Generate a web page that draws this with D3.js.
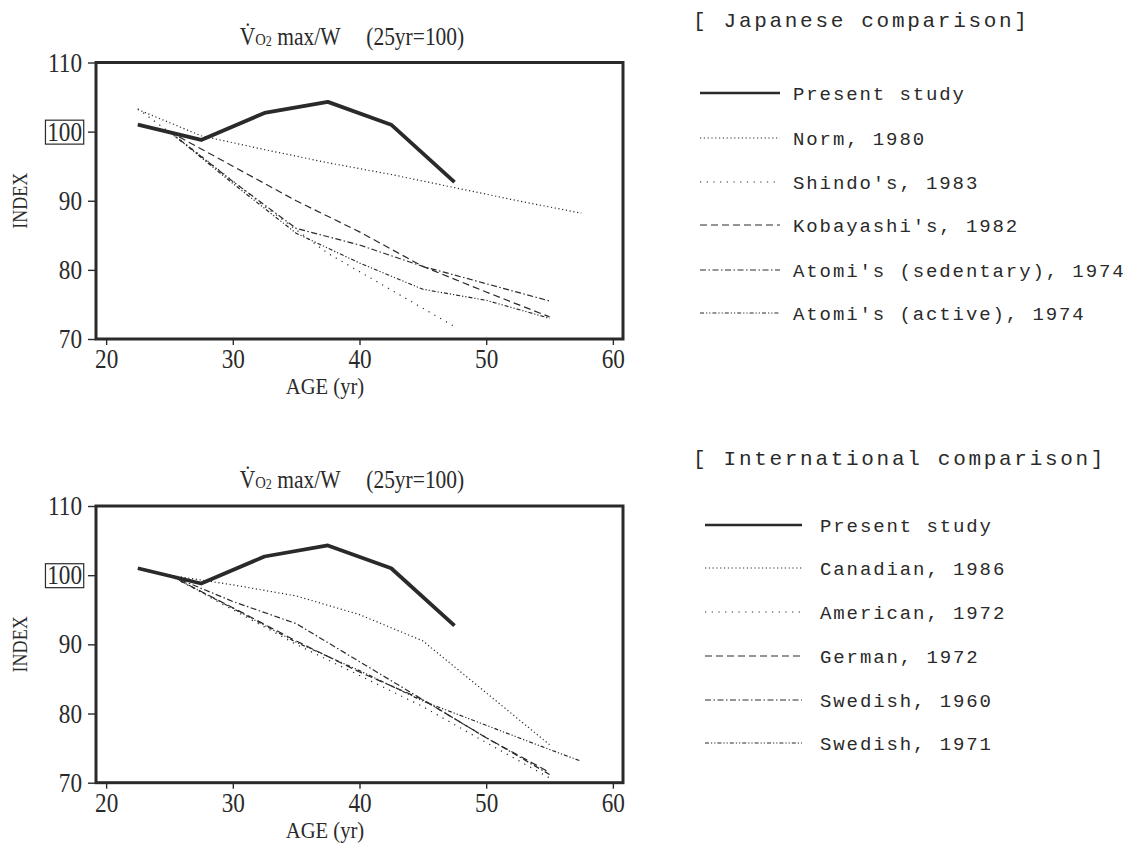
<!DOCTYPE html>
<html>
<head>
<meta charset="utf-8">
<script src="https://cdn.jsdelivr.net/npm/d3@7"></script>
<style>
  html, body { margin: 0; padding: 0; background: #fff; }
  svg { display: block; }
</style>
</head>
<body>
<svg id="chart" width="1135" height="846"></svg>
<script>
// ---------------- DATA ----------------
const xTicks = [20, 30, 40, 50, 60];
const yTicks = [70, 80, 90, 100, 110];
const ages5 = [25, 30, 35, 40, 45, 50, 55];

const presentAges = [22.5, 27.5, 32.5, 37.5, 42.5, 47.5];
const presentValues = [101, 98.8, 102.7, 104.3, 101, 92.7];

// Japanese comparison
const normAges = [22.5, 27.5, 32.5, 37.5, 42.5, 47.5, 52.5, 57.5];
const normValues = [103.2, 99.4, 97.4, 95.5, 93.8, 91.9, 90.0, 88.2];
const shindoAges = [22.5, 27.5, 32.5, 37.5, 42.5, 47.5];
const shindoValues = [103.3, 96.5, 89.2, 82.4, 77.1, 71.8];
const kobayashiValues = [100, 95, 90, 85.5, 80.5, 76.8, 73.2];
const atomiSedValues = [100, 92.8, 86, 83.6, 80.5, 78, 75.5];
const atomiActValues = [100, 92.5, 85.3, 81, 77.2, 75.6, 73];

// International comparison
const canadianValues = [100, 98.6, 97, 94.3, 90.5, 83, 75.5];
const americanValues = [100, 95, 90, 85.5, 81, 75.8, 70.7];
const germanValues = [100, 95.3, 90.5, 86, 82, 76.5, 71.5];
const swedish60Values = [100, 96.2, 93, 87.5, 82, 76.5, 71.2];
const swedish71Ages = [25, 30, 35, 40, 45, 50, 55, 57.5];
const swedish71Values = [100, 95.2, 90.3, 86.2, 81.8, 78.3, 74.8, 73.1];

const japaneseTitle = "[ Japanese comparison]";
const internationalTitle = "[ International comparison]";

// ---------------- STYLES ----------------
const INK = "#2a2a2a";
const styles = {
  solid:   { width: 3.8, dash: null },
  dots:    { width: 1.2, dash: "1.2,2.6" },
  sparse:  { width: 1.2, dash: "1.2,5.5" },
  dashed:  { width: 1.2, dash: "7,4" },
  dashdot: { width: 1.2, dash: "6,2.5,1.5,2.5" },
  dashdd:  { width: 1.2, dash: "4,2,1.2,2,1.2,2" }
};

const zip = (xs, ys) => xs.map((x, i) => ({ age: x, v: ys[i] }));

const japaneseSeries = [
  { name: "Present study", style: "solid", data: zip(presentAges, presentValues) },
  { name: "Norm, 1980", style: "dots", data: zip(normAges, normValues) },
  { name: "Shindo's, 1983", style: "sparse", data: zip(shindoAges, shindoValues) },
  { name: "Kobayashi's, 1982", style: "dashed", data: zip(ages5, kobayashiValues) },
  { name: "Atomi's (sedentary), 1974", style: "dashdot", data: zip(ages5, atomiSedValues) },
  { name: "Atomi's (active), 1974", style: "dashdd", data: zip(ages5, atomiActValues) }
];
const internationalSeries = [
  { name: "Present study", style: "solid", data: zip(presentAges, presentValues) },
  { name: "Canadian, 1986", style: "dots", data: zip(ages5, canadianValues) },
  { name: "American, 1972", style: "sparse", data: zip(ages5, americanValues) },
  { name: "German, 1972", style: "dashed", data: zip(ages5, germanValues) },
  { name: "Swedish, 1960", style: "dashdot", data: zip(ages5, swedish60Values) },
  { name: "Swedish, 1971", style: "dashdd", data: zip(swedish71Ages, swedish71Values) }
];

const svg = d3.select("#chart");
const SERIF = "'Liberation Serif', 'DejaVu Serif', serif";
const MONO = "'Liberation Mono', 'DejaVu Sans Mono', monospace";
const SX = 0.86; // horizontal condensation of the serif labels

const x = d3.scaleLinear().domain([19.2, 60.8]).range([96, 623]);

function drawChart(top, bottom, series) {
  const y = d3.scaleLinear().domain([70, 110]).range([bottom, top]);
  const g = svg.append("g");

  // title
  const t = g.append("text")
    .attr("transform", `translate(352,${top - 18}) scale(${SX},1)`)
    .attr("text-anchor", "middle")
    .attr("font-family", SERIF).attr("fill", INK);
  t.append("tspan").attr("font-size", 25).text("V\u0307");
  t.append("tspan").attr("font-size", 17).text("O");
  t.append("tspan").attr("font-size", 14).attr("dy", 1).text("2");
  t.append("tspan").attr("font-size", 25).attr("dy", -1).text(" max/W");
  t.append("tspan").attr("font-size", 25).attr("dx", 30).text("(25yr=100)");

  // axes
  const yAxis = g.append("g").attr("transform", `translate(96,0)`)
    .call(d3.axisLeft(y).tickValues(yTicks).tickSize(8).tickPadding(6).tickFormat(d3.format("d")));
  const xAxis = g.append("g").attr("transform", `translate(0,${bottom})`)
    .call(d3.axisBottom(x).tickValues(xTicks).tickSize(6).tickPadding(4).tickFormat(d3.format("d")));
  [yAxis, xAxis].forEach(a => {
    a.select(".domain").remove();
    a.selectAll(".tick line").attr("stroke", INK).attr("stroke-width", 1.4);
    a.selectAll(".tick text").attr("font-family", SERIF).attr("font-size", 27).attr("fill", INK)
      .attr("transform", `scale(${SX},1)`);
  });
  yAxis.selectAll(".tick text").attr("x", -14 / SX);
  xAxis.selectAll(".tick text").attr("dy", "0.7em");

  // box around 100
  yAxis.selectAll(".tick").filter(d => d === 100).each(function () {
    const tx = d3.select(this).select("text").node();
    const bb = tx.getBBox();
    d3.select(this).append("rect")
      .attr("x", (bb.x - 2) * SX).attr("y", bb.y + 3)
      .attr("width", (bb.width + 4) * SX).attr("height", bb.height - 5)
      .attr("fill", "none").attr("stroke", INK).attr("stroke-width", 1.2);
  });

  // axis titles
  g.append("text").attr("transform", `translate(27,${(top + bottom) / 2}) rotate(-90) scale(${SX},1)`)
    .attr("text-anchor", "middle").attr("font-family", SERIF).attr("font-size", 21)
    .attr("fill", INK).text("INDEX");
  g.append("text").attr("transform", `translate(325,${bottom + 55}) scale(${SX},1)`)
    .attr("text-anchor", "middle").attr("font-family", SERIF).attr("font-size", 24)
    .attr("fill", INK).text("AGE (yr)");

  // lines
  const line = d3.line().x(d => x(d.age)).y(d => y(d.v));
  series.slice().reverse().forEach(s => {
    const st = styles[s.style];
    g.append("path").datum(s.data)
      .attr("d", line).attr("fill", "none")
      .attr("stroke", INK).attr("stroke-width", st.width)
      .attr("stroke-dasharray", st.dash)
      .attr("stroke-linejoin", "round");
  });

  // frame
  g.append("rect").attr("x", 96).attr("y", top)
    .attr("width", 623 - 96).attr("height", bottom - top)
    .attr("fill", "none").attr("stroke", INK).attr("stroke-width", 3);
}

function drawLegend(title, titleY, series, rowYs, lx0, lx1, tx) {
  const g = svg.append("g");
  g.append("text").attr("x", 693).attr("y", titleY + 7)
    .attr("font-family", MONO).attr("font-size", 21).attr("letter-spacing", 2.7)
    .attr("fill", INK).text(title);
  series.forEach((s, i) => {
    const st = styles[s.style];
    const yy = rowYs[i];
    g.append("line").attr("x1", lx0).attr("x2", lx1).attr("y1", yy).attr("y2", yy)
      .attr("stroke", INK).attr("stroke-width", s.style === "solid" ? 2.6 : st.width)
      .attr("stroke-dasharray", st.dash);
    g.append("text").attr("x", tx).attr("y", yy + 6.5)
      .attr("font-family", MONO).attr("font-size", 19).attr("letter-spacing", 1.9)
      .attr("fill", INK).text(s.name);
  });
}

drawChart(62.5, 339, japaneseSeries);
drawChart(506, 782.7, internationalSeries);

drawLegend(japaneseTitle, 20, japaneseSeries, [93, 138, 182, 225, 270, 313], 700, 780, 793);
drawLegend(internationalTitle, 458, internationalSeries, [525, 568, 612, 656, 700, 743], 705, 802, 820);
</script>
</body>
</html>
